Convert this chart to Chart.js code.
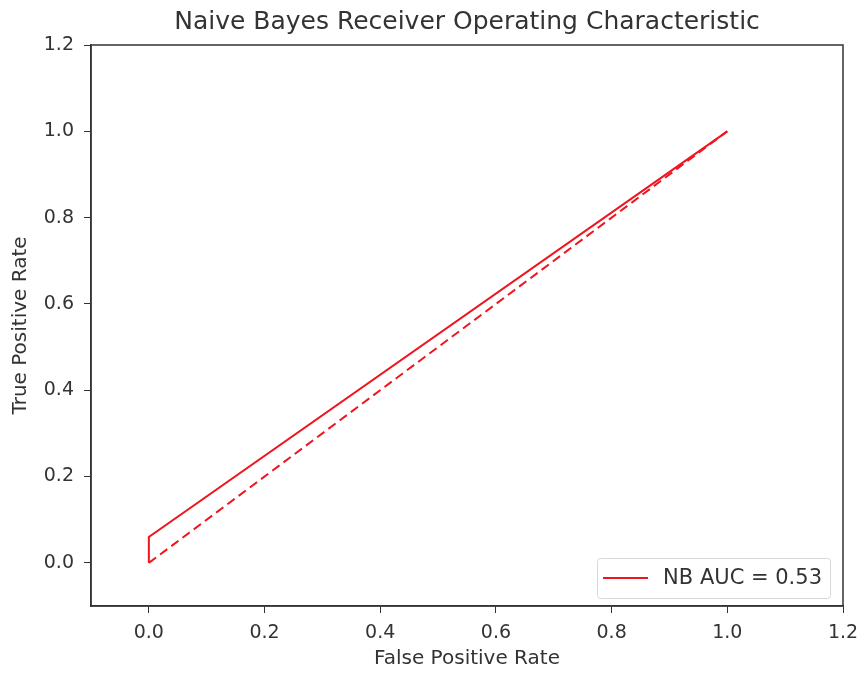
<!DOCTYPE html>
<html>
<head>
<meta charset="utf-8">
<script src="https://cdn.jsdelivr.net/npm/chart.js@4.4.0/dist/chart.umd.min.js"></script>
<style>
html,body{margin:0;padding:0;background:#fff;}
#wrap{width:857px;height:673px;}
</style>
</head>
<body>
<div id="wrap"><canvas id="c" width="857" height="673"></canvas></div>
<script>
const rocFpr = [0.0, 0.0, 1.0];
const rocTpr = [0.0, 0.06, 1.0];
const diagX = [0.0, 1.0];
const diagY = [0.0, 1.0];
const xTicks = [0.0, 0.2, 0.4, 0.6, 0.8, 1.0, 1.2];
const yTicks = [0.0, 0.2, 0.4, 0.6, 0.8, 1.0, 1.2];
const aucLabel = 'NB AUC = 0.53';
const titleText = 'Naive Bayes Receiver Operating Characteristic';

const FONT = '"DejaVu Sans", sans-serif';
const TXT = '#333';

const legendPlugin = {
  id: 'insideLegend',
  afterDatasetsDraw(chart) {
    const ctx = chart.ctx;
    const a = chart.chartArea;
    const ds = chart.data.datasets[0];
    ctx.save();
    ctx.font = '21px ' + FONT;
    const tw = ctx.measureText(ds.label).width;
    const w = 233, h = 40;
    const x = a.right - 13 - w, y = a.bottom - 8 - h;
    ctx.fillStyle = 'rgba(255,255,255,0.8)';
    ctx.strokeStyle = '#d8d8d8';
    ctx.lineWidth = 1;
    ctx.beginPath();
    ctx.roundRect(x + 0.5, y + 0.5, w, h, 3);
    ctx.fill(); ctx.stroke();
    ctx.strokeStyle = ds.borderColor;
    ctx.lineWidth = 2;
    ctx.beginPath();
    ctx.moveTo(x + 6, y + h / 2);
    ctx.lineTo(x + 51, y + h / 2);
    ctx.stroke();
    ctx.fillStyle = TXT;
    ctx.textBaseline = 'middle';
    ctx.fillText(ds.label, x + w - 8 - tw, y + h / 2 + 1);
    ctx.restore();
  }
};

const titlePlugin = {
  id: 'axesTitle',
  afterDraw(chart) {
    const a = chart.chartArea, ctx = chart.ctx;
    ctx.save();
    ctx.font = '25px ' + FONT;
    ctx.fillStyle = TXT;
    ctx.textAlign = 'center';
    ctx.textBaseline = 'middle';
    ctx.fillText(titleText, (a.left + a.right) / 2, 22);
    ctx.restore();
  }
};

new Chart(document.getElementById('c'), {
  type: 'scatter',
  data: {
    datasets: [
      {
        label: aucLabel,
        data: rocFpr.map((v, i) => ({x: v, y: rocTpr[i]})),
        showLine: true,
        borderColor: '#f0141e',
        borderWidth: 2,
        pointRadius: 0,
        fill: false
      },
      {
        label: 'chance',
        data: diagX.map((v, i) => ({x: v, y: diagY[i]})),
        showLine: true,
        borderColor: '#f0141e',
        borderWidth: 2,
        borderDash: [9, 5],
        pointRadius: 0,
        fill: false
      }
    ]
  },
  options: {
    responsive: false,
    animation: false,
    layout: {padding: {left: 0, right: 14, top: 45, bottom: 0}},
    plugins: {
      legend: {display: false},
      tooltip: {enabled: false},
      title: {display: false}
    },
    scales: {
      x: {
        type: 'linear',
        min: -0.1, max: 1.2,
        afterBuildTicks: s => { s.ticks = xTicks.map(v => ({value: v})); },
        afterFit: s => { s.height = 67; s.paddingLeft = 0; s.paddingRight = 0; },
        ticks: {
          color: TXT, font: {family: FONT, size: 19}, padding: 9,
          callback: v => v.toFixed(1), maxRotation: 0, autoSkip: false
        },
        grid: {display: true, drawOnChartArea: false, drawTicks: true, tickLength: 7, color: '#333'},
        border: {display: true, color: '#333', width: 1.5},
        title: {display: true, text: 'False Positive Rate', color: TXT, font: {family: FONT, size: 20}, padding: {top: 2, bottom: 2}}
      },
      y: {
        type: 'linear',
        min: -0.1, max: 1.2,
        afterBuildTicks: s => { s.ticks = yTicks.map(v => ({value: v})); },
        afterFit: s => { s.width = 91; s.paddingTop = 0; s.paddingBottom = 0; },
        ticks: {
          color: TXT, font: {family: FONT, size: 19}, padding: 10,
          callback: v => v.toFixed(1), autoSkip: false
        },
        grid: {display: true, drawOnChartArea: false, drawTicks: true, tickLength: 7, color: '#333'},
        border: {display: true, color: '#333', width: 1.5},
        title: {display: true, text: 'True Positive Rate', color: TXT, font: {family: FONT, size: 20}, padding: {top: 9, bottom: 4}}
      }
    }
  },
  plugins: [legendPlugin, titlePlugin, {
    id: 'frame',
    afterDraw(chart) {
      const a = chart.chartArea, ctx = chart.ctx;
      ctx.save();
      ctx.strokeStyle = '#333';
      ctx.lineWidth = 1.5;
      ctx.strokeRect(a.left, a.top, a.right - a.left, a.bottom - a.top);
      ctx.restore();
    }
  }]
});
</script>
</body>
</html>
